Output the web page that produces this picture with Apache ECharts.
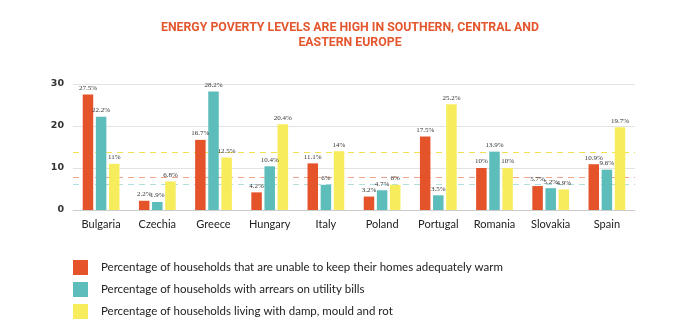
<!DOCTYPE html>
<html>
<head>
<meta charset="utf-8">
<script src="https://cdn.jsdelivr.net/npm/echarts@6/dist/echarts.min.js"></script>
<style>html,body{margin:0;padding:0;background:#fff;}#c{width:700px;height:323px;}</style>
</head>
<body>
<div id="c"></div>
<script>
const categories = ['Bulgaria','Czechia','Greece','Hungary','Italy','Poland','Portugal','Romania','Slovakia','Spain'];
const unableWarm = [27.5, 2.2, 16.7, 4.2, 11.1, 3.2, 17.5, 10, 5.7, 10.9];
const arrears = [22.2, 1.9, 28.2, 10.4, 6, 4.7, 3.5, 13.9, 5.2, 9.6];
const damp = [11, 6.8, 12.5, 20.4, 14, 6, 25.2, 10, 4.9, 19.7];
const averages = [7.8, 6.1, 13.7];
const seriesNames = [
  'Percentage of households that are unable to keep their homes adequately warm',
  'Percentage of households with arrears on utility bills',
  'Percentage of households living with damp, mould and rot'
];
const yTicks = [0, 10, 20, 30];

const colors = ['#E4532A', '#5CBDBA', '#F7EC5C'];
const dashColors = ['#F2A585', '#B3DEDE', '#F2E34E'];
const dataSets = [unableWarm, arrears, damp];

const barSeries = dataSets.map((d, i) => ({
  name: seriesNames[i],
  type: 'bar',
  data: d,
  z: 3,
  barWidth: 10.5,
  barGap: '25%',
  itemStyle: { color: colors[i] },
  label: {
    show: true, position: 'top', distance: 3,
    formatter: p => p.value + '%',
    fontFamily: 'Liberation Serif', fontSize: 7, color: '#333'
  }
}));
const avgSeries = averages.map((a, i) => ({
  name: 'avg' + i,
  type: 'line',
  data: [],
  z: 1,
  markLine: {
    silent: true,
    z: 1,
    symbol: 'none',
    label: { show: false },
    lineStyle: { type: [6, 5], color: dashColors[i], width: 1 },
    data: [{ yAxis: a }]
  }
}));

const chart = echarts.init(document.getElementById('c'));
chart.setOption({
  animation: false,
  title: {
    text: 'ENERGY POVERTY LEVELS ARE HIGH IN SOUTHERN, CENTRAL AND\nEASTERN EUROPE',
    left: 'center',
    top: 15,
    textStyle: { fontFamily: 'Roboto', fontWeight: 'bold', fontSize: 12.3, color: '#E4572E', lineHeight: 15, align: 'center' }
  },
  legend: {
    orient: 'vertical',
    left: 73,
    top: 260,
    height: 64,
    padding: 0,
    itemWidth: 15,
    itemHeight: 15,
    itemGap: 7,
    icon: 'rect',
    textStyle: { fontFamily: 'Lato', fontSize: 11.5, color: '#222', padding: [0, 0, 0, 8] },
    data: seriesNames
  },
  grid: { left: 73, right: 65, top: 84, bottom: 113 },
  xAxis: {
    type: 'category',
    data: categories,
    axisLine: { lineStyle: { color: '#ccc' } },
    axisTick: { show: false },
    axisLabel: { interval: 0, fontFamily: 'Lato', fontSize: 11, color: '#222', margin: 9 }
  },
  yAxis: {
    type: 'value',
    min: 0, max: 30, interval: 10,
    axisLine: { show: false },
    axisTick: { show: false },
    splitLine: { lineStyle: { color: '#e3e3e3' } },
    axisLabel: { fontFamily: 'DejaVu Sans', fontWeight: 'bold', fontSize: 9.5, color: '#333', margin: 9,
      formatter: v => yTicks.includes(v) ? String(v) : '' }
  },
  series: barSeries.concat(avgSeries)
});
</script>
</body>
</html>
